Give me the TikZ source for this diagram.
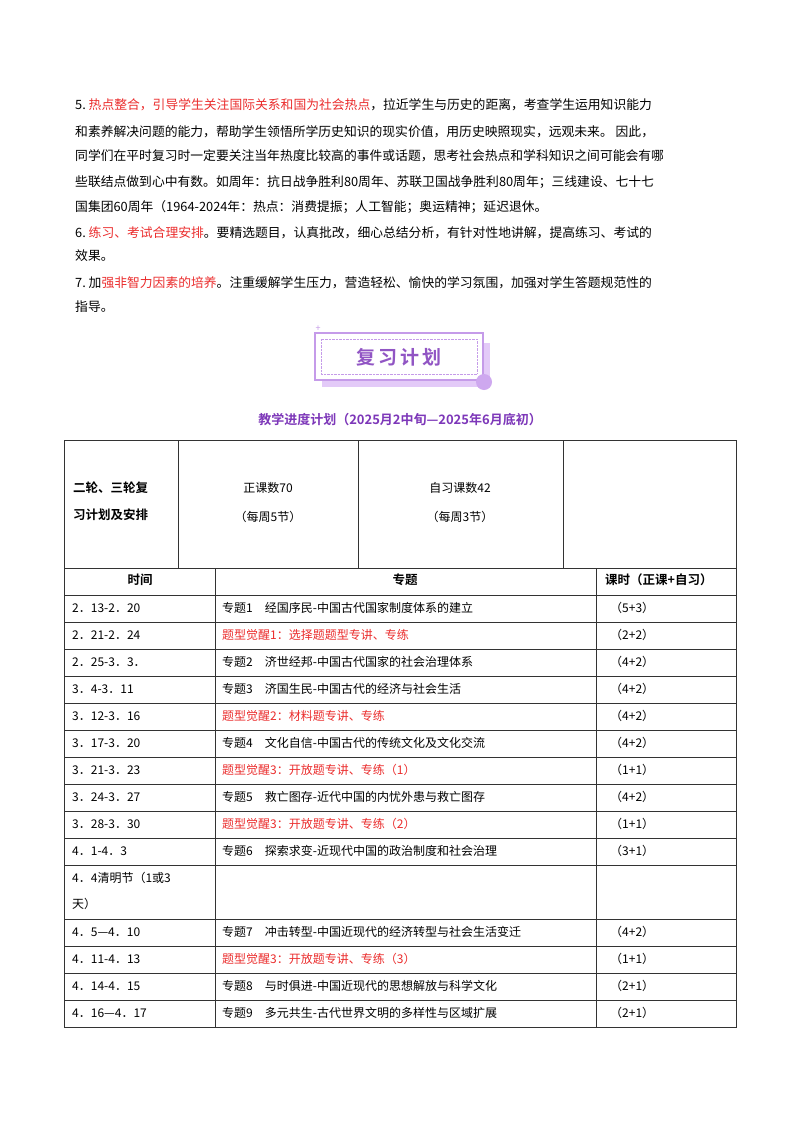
\documentclass[tikz,border=0pt]{standalone}
\usepackage{fontspec}
\setmainfont{Noto Sans CJK SC}
\newfontfamily\cjkb{Noto Sans CJK SC Bold}
\definecolor{hred}{RGB}{235,45,45}
\definecolor{hpur}{RGB}{125,55,185}
\definecolor{lpur}{RGB}{215,180,245}
\tikzset{
 txt/.style={anchor=west,inner sep=0pt,font=\fontsize{12.8}{14}\selectfont},
 cell/.style={anchor=west,inner sep=0pt,font=\fontsize{12}{14}\selectfont},
 hd/.style={inner sep=0pt,font=\cjkb\fontsize{12.5}{14}\selectfont},
 grid/.style={draw=black!80,line width=0.8pt}
}
\newcommand{\rw}[5]{%
 \node[cell] (t#1) at (72,#1) {#2};
 \node[cell,text=#5] (p#1) at (222,#1) {#3};
 \node[cell] (h#1) at (610,#1) {#4};}
\begin{document}
\begin{tikzpicture}[x=1pt,y=-1pt]
\useasboundingbox (0,0) rectangle (800,1132);
\fill[white] (0,0) rectangle (800,1132);
% paragraphs
\node[txt] (l1) at (75,105) {5.\ \textcolor{hred}{热点整合，引导学生关注国际关系和国为社会热点}，拉近学生与历史的距离，考查学生运用知识能力};
\node[txt] (l2) at (75,132) {和素养解决问题的能力，帮助学生领悟所学历史知识的现实价值，用历史映照现实，远观未来。 因此，};
\node[txt] (l3) at (75,156) {同学们在平时复习时一定要关注当年热度比较高的事件或话题，思考社会热点和学科知识之间可能会有哪};
\node[txt] (l4) at (75,182) {些联结点做到心中有数。如周年：抗日战争胜利80周年、苏联卫国战争胜利80周年；三线建设、七十七};
\node[txt] (l5) at (75,207) {国集团60周年（1964-2024年：热点：消费提振；人工智能；奥运精神；延迟退休。};
\node[txt] (l6) at (75,233) {6.\ \textcolor{hred}{练习、考试合理安排}。要精选题目，认真批改，细心总结分析，有针对性地讲解，提高练习、考试的};
\node[txt] (l7) at (75,256) {效果。};
\node[txt] (l8) at (75,283) {7.\ 加\textcolor{hred}{强非智力因素的培养}。注重缓解学生压力，营造轻松、愉快的学习氛围，加强对学生答题规范性的};
\node[txt] (l9) at (75,307) {指导。};
% banner
\fill[lpur!70] (322,343) rectangle (490,387);
\draw[lpur!80!hpur,line width=1.3pt,fill=white] (315,333) rectangle (483,380);
\draw[lpur!80!hpur,densely dotted] (321,339) rectangle (477,374);
\node[inner sep=0pt,text=hpur!85,font=\cjkb\fontsize{19}{20}\selectfont] (ban) at (399,357) {复\,习\,计\,划};
\fill[lpur!90!hpur] (484,382) circle (8);
\node[text=lpur!80!hpur,font=\small,inner sep=0pt] (star) at (318,329) {+};
% title
\node[inner sep=0pt,text=hpur,font=\cjkb\fontsize{13}{14}\selectfont] (title) at (400,420) {教学进度计划（2025月2中旬—2025年6月底初）};
% top table
\draw[grid] (64,440) rectangle (736,568);
\draw[grid] (178,440) -- (178,568) (358,440) -- (358,568) (563,440) -- (563,568);
\node[hd,anchor=west] (a1) at (73,488) {二轮、三轮复};
\node[hd,anchor=west] (a2) at (73,515) {习计划及安排};
\node[cell,anchor=center] (b1) at (268,488) {正课数70};
\node[cell,anchor=center] (b2) at (268,517) {（每周5节）};
\node[cell,anchor=center] (c1) at (460,488) {自习课数42};
\node[cell,anchor=center] (c2) at (460,517) {（每周3节）};
% bottom table
\draw[grid] (64,568) rectangle (736,1027);
\draw[grid] (215,568) -- (215,1027) (596,568) -- (596,1027);
\foreach \y in {595,622,649,676,703,730,757,784,811,838,865,919,946,973,1000}
  \draw[grid] (64,\y) -- (736,\y);
\node[hd] (h1) at (140,580) {时间};
\node[hd] (h2) at (405,580) {专题};
\node[hd,anchor=west] (h3) at (605,580) {课时（正课+自习）};
\rw{608}{2．13-2．20}{专题1\quad 经国序民-中国古代国家制度体系的建立}{（5+3）}{black}
\rw{635}{2．21-2．24}{题型觉醒1：选择题题型专讲、专练}{（2+2）}{hred}
\rw{662}{2．25-3．3．}{专题2\quad 济世经邦-中国古代国家的社会治理体系}{（4+2）}{black}
\rw{689}{3．4-3．11}{专题3\quad 济国生民-中国古代的经济与社会生活}{（4+2）}{black}
\rw{716}{3．12-3．16}{题型觉醒2：材料题专讲、专练}{（4+2）}{hred}
\rw{743}{3．17-3．20}{专题4\quad 文化自信-中国古代的传统文化及文化交流}{（4+2）}{black}
\rw{770}{3．21-3．23}{题型觉醒3：开放题专讲、专练（1）}{（1+1）}{hred}
\rw{797}{3．24-3．27}{专题5\quad 救亡图存-近代中国的内忧外患与救亡图存}{（4+2）}{black}
\rw{824}{3．28-3．30}{题型觉醒3：开放题专讲、专练（2）}{（1+1）}{hred}
\rw{851}{4．1-4．3}{专题6\quad 探索求变-近现代中国的政治制度和社会治理}{（3+1）}{black}
\node[cell] (t878) at (72,878) {4．4清明节（1或3};
\node[cell] (t904) at (72,904) {天）};
\rw{932}{4．5—4．10}{专题7\quad 冲击转型-中国近现代的经济转型与社会生活变迁}{（4+2）}{black}
\rw{959}{4．11-4．13}{题型觉醒3：开放题专讲、专练（3）}{（1+1）}{hred}
\rw{986}{4．14-4．15}{专题8\quad 与时俱进-中国近现代的思想解放与科学文化}{（2+1）}{black}
\rw{1013}{4．16—4．17}{专题9\quad 多元共生-古代世界文明的多样性与区域扩展}{（2+1）}{black}
\end{tikzpicture}
\end{document}
